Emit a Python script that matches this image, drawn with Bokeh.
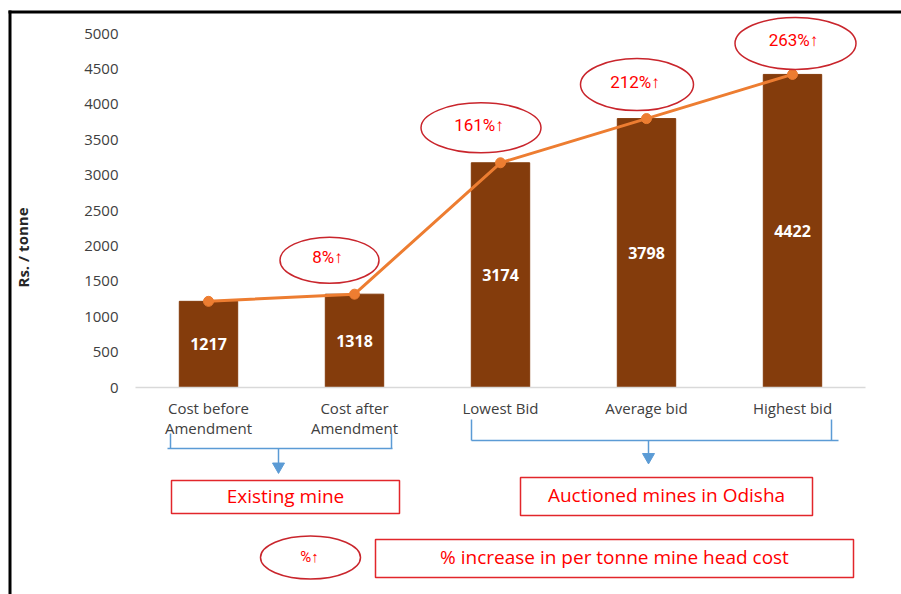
from bokeh.plotting import figure
from bokeh.models import Range1d, LinearAxis, FixedTicker, ColumnDataSource
from bokeh.core.properties import value
from bokeh.embed import file_html
from bokeh.resources import INLINE

# ---------------- data ----------------
categories = ["Cost before\nAmendment", "Cost after\nAmendment", "Lowest Bid", "Average bid", "Highest bid"]
costs = [1217, 1318, 3174, 3798, 4422]
pct_labels = ["8%\u2191", "161%\u2191", "212%\u2191", "263%\u2191"]   # for categories 2..5
y_ticks = [0, 500, 1000, 1500, 2000, 2500, 3000, 3500, 4000, 4500, 5000]
group_names = ["Existing mine", "Auctioned mines in Odisha"]
legend_symbol = "%\u2191"
legend_text = "% increase in per tonne mine head cost"
y_title = "Rs. / tonne"

# ---------------- layout (pixels) ----------------
W, H = 901, 594
X0, SX = 135.0, 146.0          # pixel of x=0, pixels per category
Y0, SY = 387.0, 354.0 / 5000   # pixel of y=0, pixels per unit


def dx(px):
    return (px - X0) / SX


def dy(py):
    return (Y0 - py) / SY


BAR_COLOR = "#843C0C"
LINE_COLOR = "#ED7D31"
RED = "#FF0000"
ELL_RED = "#C9252C"
BOX_RED = "#E2262B"
BLUE = "#5B9BD5"
GREY_TXT = "#404040"
FONT = "Open Sans"
NARROW = "Roboto"

p = figure(width=W, height=H,
           x_range=Range1d(dx(0), dx(W)), y_range=Range1d(dy(H), dy(0)),
           output_backend="svg", toolbar_location=None,
           x_axis_location=None, y_axis_location=None,
           min_border=0, outline_line_color=None,
           background_fill_color="white", border_fill_color="white")
for g in p.grid:
    g.visible = False

xc = [i + 0.5 for i in range(len(categories))]

# ---------------- axes ----------------
yaxis = LinearAxis(fixed_location=0, ticker=FixedTicker(ticks=y_ticks), bounds=(0, 5000))
yaxis.axis_line_color = None
yaxis.major_tick_line_color = None
yaxis.minor_tick_line_color = None
yaxis.major_tick_out = 0
yaxis.major_tick_in = 0
yaxis.major_label_standoff = 17
yaxis.major_label_text_font = FONT
yaxis.major_label_text_font_size = "15px"
yaxis.major_label_text_color = GREY_TXT
p.add_layout(yaxis, "left")

xaxis = LinearAxis(fixed_location=0, ticker=FixedTicker(ticks=xc), bounds=(0, len(categories)))
xaxis.major_label_overrides = {x: c for x, c in zip(xc, categories)}
xaxis.axis_line_color = "#D9D9D9"
xaxis.axis_line_width = 1.5
xaxis.major_tick_line_color = None
xaxis.minor_tick_line_color = None
xaxis.major_tick_out = 0
xaxis.major_tick_in = 0
xaxis.major_label_standoff = 10
xaxis.major_label_text_font = FONT
xaxis.major_label_text_font_size = "15px"
xaxis.major_label_text_color = GREY_TXT
xaxis.major_label_text_line_height = 1.0
p.add_layout(xaxis, "below")

# ---------------- bars, line ----------------
src = ColumnDataSource(dict(x=xc, top=costs, mid=[c / 2 for c in costs], lab=[str(c) for c in costs]))
p.vbar(x="x", top="top", bottom=0, width=0.4, source=src, fill_color=BAR_COLOR, line_color=BAR_COLOR)
p.text(x="x", y="mid", text="lab", source=src, text_color="white", text_font=value(FONT),
       text_font_style="bold", text_font_size="16px", text_align="center", text_baseline="middle")
p.line(x="x", y="top", source=src, line_color=LINE_COLOR, line_width=3)
p.scatter(x="x", y="top", source=src, size=10, fill_color=LINE_COLOR, line_color=LINE_COLOR)

# ---------------- percentage ellipses ----------------
ell_off_x = [-25, -19.5, -9.5, 3]    # px offset from data point
ell_off_up = [34, 35, 34, 31]         # px above data point
ell_w = [99, 120, 113, 121]
ell_h = [46, 50, 52, 52]
ex = [xc[i + 1] + ell_off_x[i] / SX for i in range(4)]
ey = [costs[i + 1] + ell_off_up[i] / SY for i in range(4)]
esrc = ColumnDataSource(dict(x=ex, y=ey, w=ell_w, h=ell_h, t=pct_labels,
                             tx=[x - 2 / SX for x in ex], ty=[y + 3 / SY for y in ey]))
p.ellipse(x="x", y="y", width="w", height="h", width_units="screen", height_units="screen",
          source=esrc, fill_color="white", line_color=ELL_RED, line_width=1.5)
p.text(x="tx", y="ty", text="t", source=esrc, text_color=RED, text_font=value(NARROW),
       text_font_size="17px", text_align="center", text_baseline="middle")

# ---------------- brackets and arrows ----------------
br_xs = [[dx(170), dx(170)], [dx(391), dx(391)], [dx(167), dx(392)], [dx(278), dx(278)],
         [dx(471), dx(471)], [dx(831), dx(831)], [dx(471), dx(838)], [dx(648), dx(648)]]
br_ys = [[dy(433), dy(448)], [dy(433), dy(448)], [dy(448), dy(448)], [dy(448), dy(463)],
         [dy(419), dy(440)], [dy(419), dy(440)], [dy(440), dy(440)], [dy(440), dy(453)]]
p.multi_line(xs=br_xs, ys=br_ys, line_color=BLUE, line_width=1.5)
p.scatter(x=[dx(278), dx(648)], y=[dy(466), dy(456.5)], marker="inverted_triangle", size=12,
          fill_color=BLUE, line_color=BLUE)

# ---------------- boxes ----------------
box_l = [171, 520, 375]
box_r = [399, 812, 853]
box_t = [480, 477, 539]
box_b = [513, 515, 577]
p.quad(left=[dx(v) for v in box_l], right=[dx(v) for v in box_r],
       top=[dy(v) for v in box_t], bottom=[dy(v) for v in box_b],
       fill_color="white", line_color=BOX_RED, line_width=1.5)
box_texts = group_names + [legend_text]
p.text(x=[dx((l + r) / 2) for l, r in zip(box_l, box_r)],
       y=[dy((t + b) / 2 - 1.5) for t, b in zip(box_t, box_b)],
       text=box_texts, text_color=RED, text_font=value(FONT), text_font_size="19px",
       text_align="center", text_baseline="middle")

# legend ellipse
p.ellipse(x=[dx(310)], y=[dy(557)], width=100, height=43, width_units="screen", height_units="screen",
          fill_color="white", line_color=ELL_RED, line_width=1.5)
p.text(x=[dx(309)], y=[dy(556)], text=[legend_symbol], text_color=RED, text_font=value(NARROW),
       text_font_size="15px", text_align="center", text_baseline="middle")

# ---------------- y title ----------------
p.text(x=[dx(22)], y=[dy(247)], text=[y_title], angle=1.5708, text_color="#262626",
       text_font=value(FONT), text_font_style="bold", text_font_size="15px",
       text_align="center", text_baseline="middle")

# ---------------- outer frame ----------------
p.line(x=[dx(8), dx(W)], y=[dy(11.5), dy(11.5)], line_color="black", line_width=3)
p.line(x=[dx(9.5), dx(9.5)], y=[dy(10), dy(H)], line_color="black", line_width=3)

open("out.html", "w").write(file_html(p, INLINE))
